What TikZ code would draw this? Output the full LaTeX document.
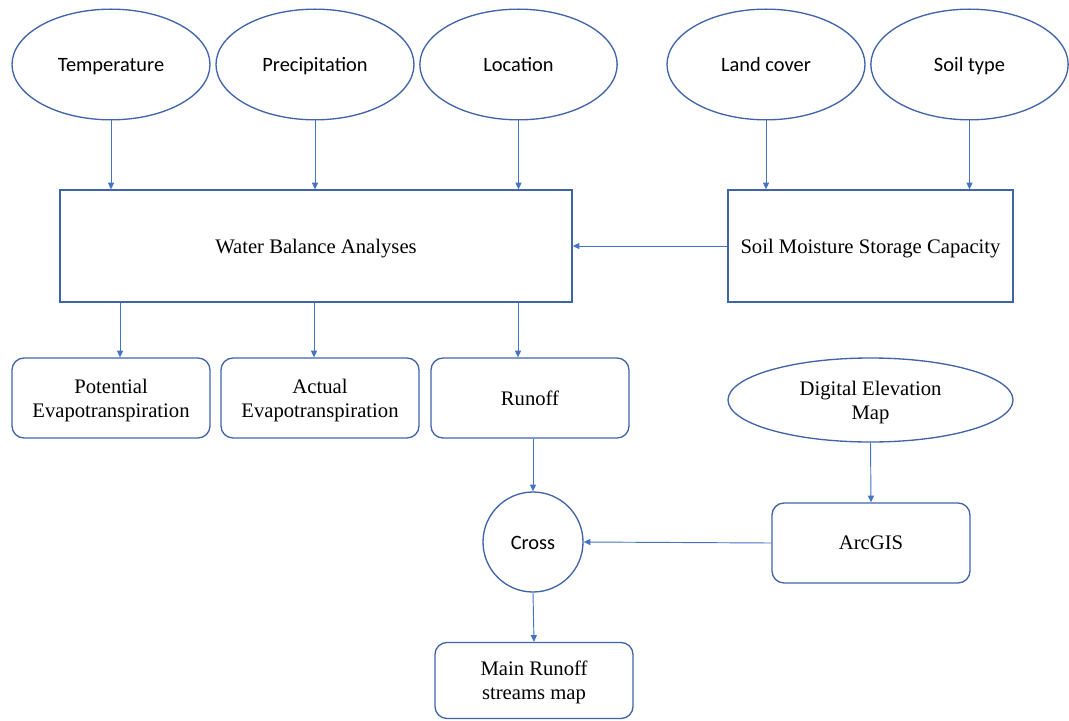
\documentclass[tikz,border=0pt]{standalone}
\usepackage{fontspec}
\setmainfont{Liberation Serif}
\newfontfamily\calfont{Carlito}
\usetikzlibrary{arrows.meta,shapes.geometric}
\definecolor{edgeblue}{RGB}{64,100,170}
\definecolor{arrblue}{RGB}{68,114,196}
\begin{document}
\begin{tikzpicture}[x=0.75pt,y=-0.75pt,
  shp/.style={draw=edgeblue, line width=1pt, inner sep=0pt, align=center},
  ell/.style={shp, ellipse, font=\calfont\fontsize{15.3}{18}\selectfont, text height=10.8pt, text depth=0pt},
  sbox/.style={shp, font=\fontsize{15.5}{18}\selectfont, text depth=0pt},
  rbox/.style={sbox, rounded corners=9pt, minimum width=148.5pt, minimum height=60pt},
  arr/.style={draw=arrblue, line width=0.7pt, -{Triangle[length=5pt,width=4.5pt]}}]
\useasboundingbox (0,0) rectangle (1069,720);
% top ellipses
\node[ell, minimum width=148.5pt, minimum height=83pt] (temp) at (111,64.5) {Temperature};
\node[ell, minimum width=148.5pt, minimum height=83pt] (prec) at (315,64.5) {Precipitation};
\node[ell, minimum width=148pt, minimum height=83pt] (loc) at (518.5,64.5) {Location};
\node[ell, minimum width=148.5pt, minimum height=83pt] (land) at (766,64.5) {Land cover};
\node[ell, minimum width=148pt, minimum height=83pt] (soil) at (969.5,64.5) {Soil type};
% main boxes
\node[sbox, minimum width=384pt, minimum height=84pt] (wb) at (316,246) {Water Balance Analyses};
\node[sbox, minimum width=213.75pt, minimum height=84pt] (smc) at (870.5,246) {Soil Moisture Storage Capacity};
% outputs
\node[rbox] (pot) at (111,398) {Potential\\Evapotranspiration};
\node[rbox] (act) at (320,398) {Actual\\Evapotranspiration};
\node[rbox] (run) at (530,398) {Runoff};
\node[shp, ellipse, font=\fontsize{15.5}{18}\selectfont, text depth=0pt, minimum width=213.75pt, minimum height=63pt] (dem) at (870.5,400) {Digital Elevation\\Map};
\node[rbox] (arc) at (871,543) {ArcGIS};
\node[shp, circle, minimum size=75pt, font=\calfont\fontsize{15.3}{18}\selectfont, text height=10.8pt, text depth=0pt] (cross) at (533,542) {Cross};
\node[rbox, minimum height=57pt] (main) at (534,680.5) {Main Runoff\\streams map};
% connectors
\draw[arr] (temp.south) -- (temp.south |- wb.north);
\draw[arr] (prec.south) -- (prec.south |- wb.north);
\draw[arr] (loc.south) -- (loc.south |- wb.north);
\draw[arr] (land.south) -- (land.south |- smc.north);
\draw[arr] (soil.south) -- (soil.south |- smc.north);
\draw[arr] (smc.west) -- (wb.east);
\coordinate (a1) at ([xshift=6.75pt]pot.north);
\coordinate (a2) at ([xshift=-4.5pt]act.north);
\coordinate (a3) at ([xshift=-9pt]run.north);
\draw[arr] (a1 |- wb.south) -- (a1);
\draw[arr] (a2 |- wb.south) -- (a2);
\draw[arr] (a3 |- wb.south) -- (a3);
\draw[arr] (cross.north |- run.south) -- (cross.north);
\draw[arr] (dem.south) -- (arc.north);
\draw[arr] (arc.west) -- (cross.east);
\draw[arr] (cross.south) -- (main.north);
\end{tikzpicture}
\end{document}
